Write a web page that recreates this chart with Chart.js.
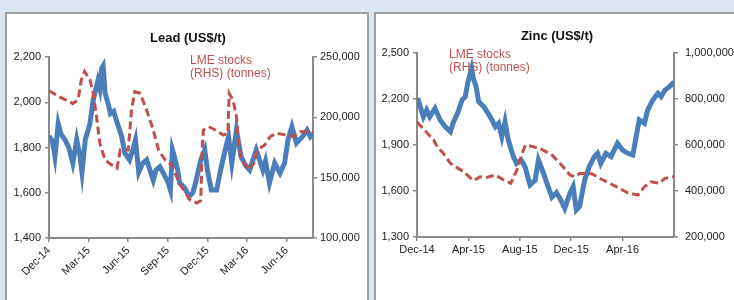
<!DOCTYPE html>
<html><head><meta charset="utf-8">
<script src="https://cdn.jsdelivr.net/npm/chart.js@4.4.1/dist/chart.umd.min.js"></script>
<style>
html,body{margin:0;padding:0;background:#dce6f1;width:734px;height:300px;overflow:hidden;position:relative}
.panel{position:absolute;top:12px;height:300px;background:#fff;border:2px solid #a0a0a0;box-sizing:border-box}
canvas{position:absolute}
</style></head><body>
<div class="panel" style="left:5px;width:364px"></div>
<div class="panel" style="left:374px;width:380px"></div>
<canvas id="lead" width="360" height="285" style="left:7px;top:15px"></canvas>
<canvas id="zinc" width="358" height="285" style="left:376px;top:15px"></canvas>
<script>
// ---------- Lead ----------
const leadTitle = 'Lead (US$/t)';
const leadTickMonths = [0, 3, 6, 9, 12, 15, 18];
const leadTickLabels = ['Dec-14', 'Mar-15', 'Jun-15', 'Sep-15', 'Dec-15', 'Mar-16', 'Jun-16'];
const leadPriceMonths = [0,0.25,0.45,0.7,0.9,1.2,1.5,1.8,2.1,2.35,2.5,2.75,3.1,3.35,3.7,3.85,4.0,4.1,4.25,4.5,4.65,4.9,5.1,5.5,5.75,6.1,6.4,6.55,6.8,7.1,7.4,7.9,8.1,8.4,8.8,9.0,9.2,9.35,9.5,9.75,9.9,10.3,10.6,10.9,11.1,11.5,11.8,12.0,12.3,12.7,13.0,13.35,13.6,13.85,14.2,14.55,14.9,15.2,15.7,16.2,16.4,16.7,17.1,17.5,17.85,18.1,18.4,18.75,19.2,19.55,19.8,20.0];
const leadPrice = [1850,1830,1760,1905,1860,1835,1800,1730,1835,1760,1690,1835,1905,2010,2095,2060,2150,2160,2040,1990,1950,1960,1920,1850,1775,1745,1800,1833,1690,1730,1745,1656,1700,1715,1671,1650,1612,1790,1760,1700,1643,1620,1583,1600,1643,1745,1790,1700,1612,1612,1700,1790,1848,1731,1877,1759,1720,1700,1789,1700,1740,1643,1731,1687,1731,1833,1892,1820,1848,1877,1848,1860];
const leadStockMonths = [0,0.8,1.8,2.2,2.45,2.7,3.1,3.35,3.6,3.85,4.25,4.75,5.15,5.4,6.0,6.25,6.5,6.9,7.4,7.9,8.3,8.8,9.3,9.9,10.7,11.2,11.5,11.6,11.7,12.1,12.6,13.2,13.55,13.65,13.95,14.2,14.35,14.6,15.1,15.5,15.75,16.35,16.75,17.25,18.0,18.5,19.0,19.8,20.0];
const leadStocks = [222000,217000,211500,214400,231000,238000,231000,220000,200500,178500,164600,160500,157800,172900,172900,206000,221200,220000,206000,189500,172900,164600,160500,145000,131500,129000,131000,172900,189500,192200,189500,185300,187000,220000,214000,200500,178500,164600,156400,161900,172900,177100,184000,186800,185300,184000,188100,188100,188000];

// ---------- Zinc ----------
const zincTitle = 'Zinc (US$/t)';
const zincTickMonths = [0, 4, 8, 12, 16];
const zincTickLabels = ['Dec-14', 'Apr-15', 'Aug-15', 'Dec-15', 'Apr-16'];
const zincPriceMonths = [0,0.1,0.5,0.75,1.0,1.4,1.8,2.2,2.6,2.85,3.2,3.5,3.75,4.0,4.25,4.4,4.6,4.8,5.2,5.7,6.1,6.35,6.6,6.85,7.1,7.5,7.75,8.1,8.4,8.8,9.2,9.45,9.85,10.2,10.5,10.85,11.2,11.5,11.9,12.15,12.4,12.65,13.05,13.4,13.8,14.05,14.3,14.7,15.1,15.6,16.0,16.4,16.8,17.05,17.3,17.7,17.95,18.35,18.75,19.0,19.3,19.65,19.9,20.0];
const zincPrice = [2195,2193,2084,2128,2084,2139,2063,2019,1987,2052,2117,2193,2215,2324,2400,2330,2280,2182,2150,2084,2019,2041,1954,2052,1932,1824,1780,1802,1760,1640,1672,1802,1715,1628,1560,1590,1540,1487,1585,1628,1476,1498,1672,1758,1824,1846,1780,1846,1824,1911,1867,1846,1835,1954,2063,2041,2128,2193,2237,2215,2258,2280,2302,2310];
const zincStockMonths = [0,1.3,1.6,2.05,2.6,3.6,4.4,4.9,5.35,6.1,6.75,7.3,7.8,8.15,8.45,8.9,9.75,10.5,11.3,11.9,12.25,12.7,13.6,14.4,15.5,16.4,17.2,17.7,18.2,18.85,19.3,20.0];
const zincStocks = [700000,621800,590000,564000,520000,485000,445000,462000,458000,469600,447800,433500,495000,560000,600000,595000,580000,556500,510000,470000,462200,477000,475000,450000,418700,392000,382600,418700,440000,433500,455200,462200];

const stockNote = ['LME stocks', '(RHS) (tonnes)'];

const FONT = "'Liberation Sans', Arial, sans-serif";
const BLUE = '#4a7ebb';
const RED = '#c0504d';
const AX = '#8a8a8a';
Chart.defaults.font.family = FONT;

const pts = (xs, ys) => xs.map((x, i) => ({x: x, y: ys[i]}));
const fmt = v => Number(v).toLocaleString('en-US');

function textPlugin(title, tx, ty, lx, ly) {
  return {
    id: 'notes',
    afterDraw(chart) {
      const c = chart.ctx;
      c.save();
      c.font = 'bold 13px ' + FONT;
      c.fillStyle = '#111';
      c.textAlign = 'center';
      c.textBaseline = 'middle';
      c.fillText(title, tx, ty);
      c.font = '12px ' + FONT;
      c.fillStyle = RED;
      c.textAlign = 'left';
      c.fillText(stockNote[0], lx, ly);
      c.fillText(stockNote[1], lx, ly + 13);
      c.restore();
    }
  };
}

function build(id, o) {
  return new Chart(document.getElementById(id), {
    type: 'line',
    data: {
      datasets: [
        {data: pts(o.sx, o.sy), yAxisID: 'y1', borderColor: RED, borderWidth: 3, borderDash: [8, 4], pointRadius: 0, fill: false, order: 0, tension: 0},
        {data: pts(o.px, o.py), yAxisID: 'y', borderColor: BLUE, borderWidth: 5, pointRadius: 0, fill: false, order: 1, tension: 0}
      ]
    },
    options: {
      responsive: false, animation: false, devicePixelRatio: 1,
      layout: {padding: {top: o.top, left: 0, right: 0, bottom: 0}},
      plugins: {legend: {display: false}, tooltip: {enabled: false}, title: {display: false}},
      scales: {
        x: {
          type: 'linear', min: 0, max: 20,
          afterBuildTicks: s => { s.ticks = o.tickMonths.map(v => ({value: v})); },
          afterFit: s => { s.height = o.xh; },
          ticks: {autoSkip: false, minRotation: o.rot, maxRotation: o.rot, padding: 2, color: '#222', font: {size: 11},
            callback: v => { const i = o.tickMonths.indexOf(v); return i >= 0 ? o.tickLabels[i] : ''; }},
          grid: {drawOnChartArea: false, tickLength: 4, color: AX, lineWidth: 1.5},
          border: {color: AX, width: 2}
        },
        y: {
          position: 'left', min: o.ymin, max: o.ymax,
          afterFit: s => { s.width = o.lw; },
          ticks: {stepSize: o.ystep, padding: 4, color: '#222', font: {size: 11}, callback: fmt},
          grid: {drawOnChartArea: false, tickLength: 4, color: AX, lineWidth: 1.5},
          border: {color: AX, width: 2}
        },
        y1: {
          position: 'right', min: o.rmin, max: o.rmax,
          afterFit: s => { s.width = o.rw; },
          ticks: {stepSize: o.rstep, padding: o.rpad, color: '#222', font: {size: 11}, callback: fmt},
          grid: {drawOnChartArea: false, tickLength: 4, color: AX, lineWidth: 1.5},
          border: {color: AX, width: 2}
        }
      }
    },
    plugins: [textPlugin(o.title, o.tx, o.ty, o.lx, o.ly)]
  });
}

build('lead', {
  title: leadTitle, tx: 181, ty: 23, lx: 183, ly: 46,
  px: leadPriceMonths, py: leadPrice, sx: leadStockMonths, sy: leadStocks,
  tickMonths: leadTickMonths, tickLabels: leadTickLabels, rot: 45,
  top: 42, xh: 62, lw: 42, rw: 54, rpad: 3,
  ymin: 1400, ymax: 2200, ystep: 200, rmin: 100000, rmax: 250000, rstep: 50000
});

build('zinc', {
  title: zincTitle, tx: 181, ty: 21, lx: 73, ly: 40,
  px: zincPriceMonths, py: zincPrice, sx: zincStockMonths, sy: zincStocks,
  tickMonths: zincTickMonths, tickLabels: zincTickLabels, rot: 0,
  top: 38, xh: 63, lw: 41, rw: 60, rpad: 7,
  ymin: 1300, ymax: 2500, ystep: 300, rmin: 200000, rmax: 1000000, rstep: 200000
});
</script>
</body></html>
